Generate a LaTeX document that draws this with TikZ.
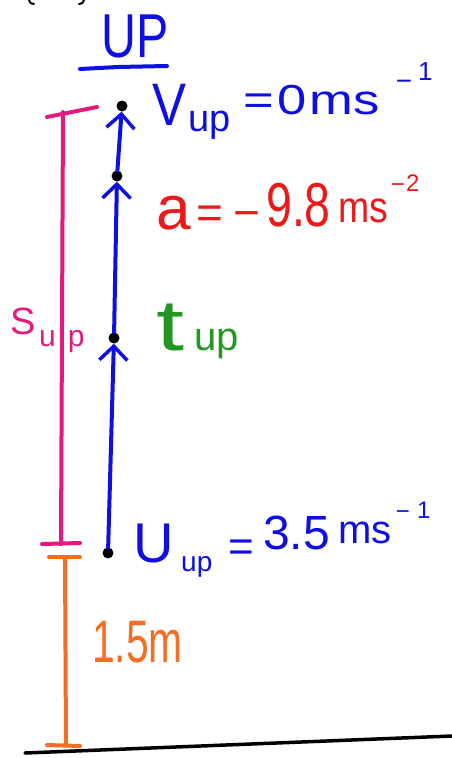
\documentclass[tikz,border=0pt]{standalone}
\usepackage{fontspec}
\setmainfont{Liberation Sans}
\usetikzlibrary{arrows.meta}
\definecolor{penblue}{RGB}{15,15,225}
\definecolor{penred}{RGB}{235,25,25}
\definecolor{pengreen}{RGB}{35,150,35}
\definecolor{penpink}{RGB}{228,25,125}
\definecolor{penorange}{RGB}{242,110,35}
\newcommand{\fsz}[1]{\fontsize{#1}{#1}\selectfont}
\begin{document}
\begin{tikzpicture}[x=1pt,y=-1pt,
  lbl/.style={inner sep=0pt, anchor=base west},
  ctr/.style={inner sep=0pt, anchor=center},
  blackdot/.style={circle, fill=black, inner sep=0pt, minimum size=11pt},
  pen/.style={line width=4pt, line cap=round, line join=round},
  barb/.style={-{Straight Barb[length=14pt,width=28pt,line width=3.5pt]}}]
\useasboundingbox (0,0) rectangle (452,758);
\fill[white] (0,0) rectangle (452,758);

% bottoms of the cut-off header brackets
\draw[line width=2pt, line cap=round] (29,0) .. controls (30,3) .. (34,4);
\draw[line width=2pt, line cap=round] (84,0) .. controls (83,3) .. (79,4);

% heading
\node[lbl, text=penblue, font=\fsz{62}] (uphead) at (101,57) {\scalebox{0.78}[1]{UP}};
\draw[pen, penblue] (80,69) -- (118,67) -- (167,66);

% points on the upward path
\node[blackdot] (d0) at (108,553) {};
\node[blackdot] (d1) at (114,338) {};
\node[blackdot] (d2) at (117,176) {};
\node[blackdot] (d3) at (122,106) {};
\draw[pen, penblue, barb] (d0) -- (d1);
\draw[pen, penblue, barb] (d1) -- (d2);
\draw[pen, penblue, barb] (d2) -- (d3);

% pink displacement s_up
\coordinate (stop) at (63,112);
\coordinate (sbot) at (61,544);
\draw[pen, penpink] (47,117) -- (97,107);
\draw[pen, penpink] (stop) -- (sbot);
\draw[pen, penpink] (42,544) -- (80,543);
\node[lbl, text=penpink, font=\fsz{38}] (slab) at (10,334) {S};
\node[lbl, text=penpink, font=\fsz{30}] (ssub) at (39,346) {u\hspace{12pt}p};

% orange 1.5 m
\coordinate (otop) at (65,557);
\coordinate (obot) at (66,745);
\draw[pen, penorange] (49,557) -- (80,557);
\draw[pen, penorange] (otop) -- (obot);
\draw[pen, penorange] (47,745) -- (80,746);
\node[lbl, text=penorange, font=\fsz{60}] (hlab) at (92,662) {\scalebox{0.68}[1]{1.5m}};

% ground
\draw[line width=3.5pt, line cap=round] (25,753) -- (452,736);

% V_up = 0 ms^-1
\node[lbl, text=penblue, font=\fsz{60}] (vv) at (152,125) {\scalebox{0.85}[1]{V}};
\node[lbl, text=penblue, font=\fsz{38}] (vsub) at (188,131) {up};
\node[lbl, text=penblue, font=\fsz{42}] (veq) at (243,114) {\scalebox{1.25}[1]{=\hspace{3pt}0\hspace{2pt}ms}};
\node[ctr, text=penblue, font=\fsz{28}] (vsupm) at (404,85) {−};
\node[lbl, text=penblue, font=\fsz{26}] (vsup) at (418,80) {1};

% a = -9.8 ms^-2
\node[lbl, text=penred, font=\fsz{62}] (aa) at (156,229) {a};
\node[lbl, text=penred, font=\fsz{46}] (aeq) at (196,228) {=\hspace{10pt}−};
\node[lbl, text=penred, font=\fsz{62}] (anum) at (266,226) {\scalebox{0.75}[1]{9.8}};
\node[lbl, text=penred, font=\fsz{44}] (aunit) at (338,222) {\scalebox{0.85}[1]{ms}};
\node[ctr, text=penred, font=\fsz{24}] (asupm) at (398,188) {−};
\node[lbl, text=penred, font=\fsz{24}] (asup) at (406,191) {2};

% t_up
\node[lbl, text=pengreen, font=\fsz{72}] (tt) at (156,350) {\scalebox{1.4}[1]{t}};
\node[lbl, text=pengreen, font=\fsz{40}] (tsub) at (194,350) {up};

% U_up = 3.5 ms^-1
\node[lbl, text=penblue, font=\fsz{56}] (uu) at (133,562) {U};
\node[lbl, text=penblue, font=\fsz{28}] (usub) at (181,571) {up};
\node[lbl, text=penblue, font=\fsz{44}] (ueq) at (228,561) {=};
\node[lbl, text=penblue, font=\fsz{48}] (unum) at (263,549) {3.5};
\node[lbl, text=penblue, font=\fsz{40}] (uunit) at (338,543) {ms};
\node[ctr, text=penblue, font=\fsz{24}] (usupm) at (403,515) {−};
\node[lbl, text=penblue, font=\fsz{24}] (usup) at (417,518) {1};
\end{tikzpicture}
\end{document}
